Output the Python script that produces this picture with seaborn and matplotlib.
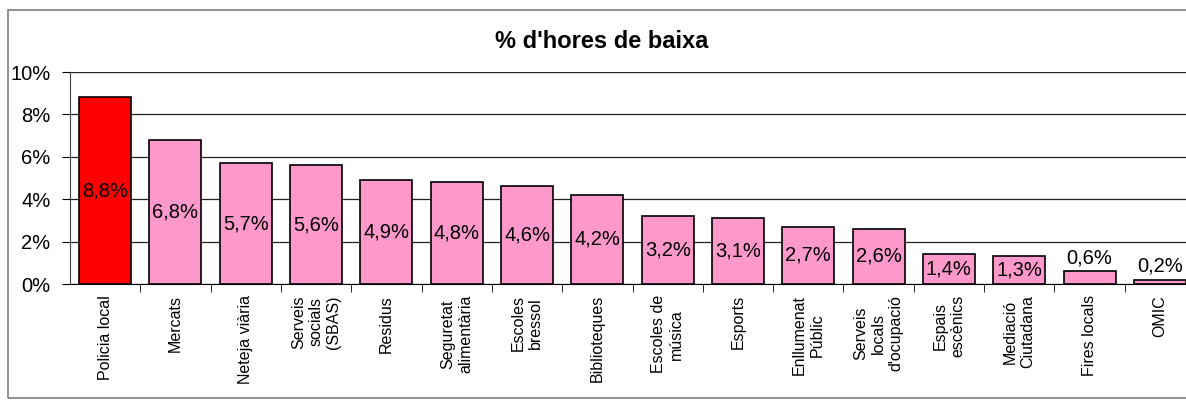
import numpy as np
import pandas as pd
import matplotlib
matplotlib.use('Agg')
import matplotlib.pyplot as plt
import seaborn as sns
from matplotlib.patches import Rectangle

SERVICES = ['Policia local', 'Mercats', 'Neteja viària', 'Serveis\nsocials\n(SBAS)',
            'Residus', 'Seguretat\nalimentària', 'Escoles\nbressol', 'Biblioteques',
            'Escoles de\nmúsica', 'Esports', 'Enllumenat\nPúblic',
            'Serveis\nlocals\nd\'ocupació', 'Espais\nescènics', 'Mediació\nCiutadana',
            'Fires locals', 'OMIC']
PCT_BAIXA = [8.8, 6.8, 5.7, 5.6, 4.9, 4.8, 4.6, 4.2, 3.2, 3.1, 2.7, 2.6, 1.4, 1.3, 0.6, 0.2]
Y_TICKS = [0, 2, 4, 6, 8, 10]

sns.set_style('white')
plt.rcParams['font.family'] = ['Liberation Sans', 'DejaVu Sans']
plt.rcParams['text.color'] = 'black'
plt.rcParams['xtick.color'] = 'black'
plt.rcParams['ytick.color'] = 'black'

df = pd.DataFrame({'servei': SERVICES, 'pct': PCT_BAIXA})
colors = ['#ff0000'] + ['#ff99cc'] * (len(SERVICES) - 1)

fig = plt.figure(figsize=(11.86, 4.05), dpi=100)
# outer chart-area border
fig.patches.append(Rectangle((8 / 1186, 1 - 398 / 405), 1.2, 388 / 405,
                             transform=fig.transFigure, fill=False,
                             edgecolor='#808080', linewidth=1.2))

ax = fig.add_axes([70 / 1186, 1 - 284 / 405, 1125 / 1186, 212 / 405])
sns.barplot(data=df, x='servei', y='pct', hue='servei', palette=colors,
            legend=False, width=0.74, edgecolor='black', linewidth=1.2,
            saturation=1, ax=ax, zorder=3)

ax.set_xlim(-0.5, len(SERVICES) - 0.5)
ax.set_ylim(0, 10)
ax.set_yticks(Y_TICKS)
ax.set_yticklabels([f'{t}%' for t in Y_TICKS], fontsize=14.5)
ax.grid(axis='y', color='#202020', linewidth=0.9, zorder=0)
ax.set_xlabel('')
ax.set_ylabel('')

# category labels without tick marks, tick marks between categories
ax.set_xticks(range(len(SERVICES)))
ax.set_xticklabels(SERVICES, rotation=90, fontsize=11.5, ha='center', va='top',
                   multialignment='center')
ax.tick_params(axis='x', which='major', length=0, pad=8)
ax.set_xticks(np.arange(0.5, len(SERVICES) - 0.5, 1), minor=True)
ax.tick_params(axis='x', which='minor', length=6, color='black', direction='out', bottom=True)
ax.tick_params(axis='y', length=6, color='black', direction='out', left=True, pad=8)

for s in ['top', 'right']:
    ax.spines[s].set_visible(False)
ax.spines['left'].set_color('#404040')
ax.spines['bottom'].set_color('black')

for i, v in enumerate(PCT_BAIXA):
    label = f'{v:.1f}%'.replace('.', ',')
    if v >= 1:
        ax.text(i, v / 2, label, ha='center', va='center', fontsize=14.5, zorder=4)
    else:
        ax.text(i, v + 0.2, label, ha='center', va='bottom', fontsize=14.5, zorder=4)

fig.text(602 / 1186, 1 - 41 / 405, "% d'hores de baixa", ha='center', va='center',
         fontsize=17, fontweight='bold')

fig.savefig('out.png', dpi=100)
